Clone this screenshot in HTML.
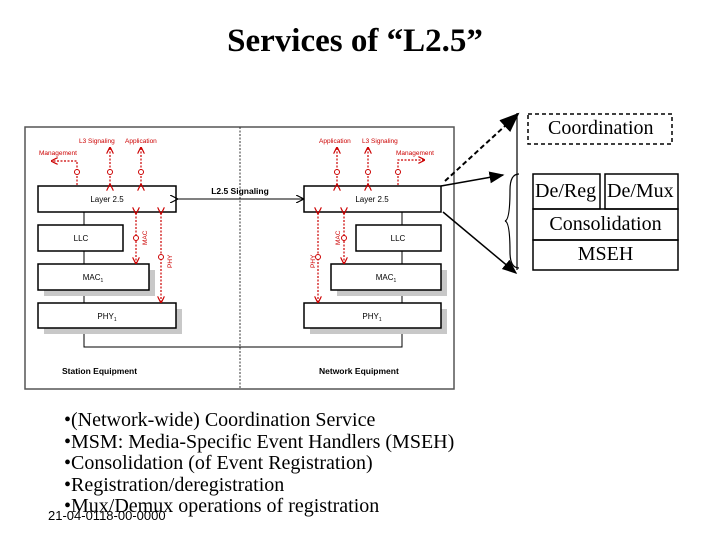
<!DOCTYPE html>
<html><head><style>
body{margin:0;width:720px;height:540px;background:#fff;overflow:hidden;position:relative;font-family:"Liberation Serif",serif;}
.t{position:absolute;white-space:nowrap;}
</style></head><body>
<div class="t" style="left:0;width:710px;text-align:center;top:23px;font-size:33px;font-weight:bold;">Services of “L2.5”</div>
<svg width="720" height="540" style="position:absolute;left:0;top:0" font-family="Liberation Sans, sans-serif">
<defs>
<marker id="ar" markerWidth="8" markerHeight="8" refX="7" refY="4" orient="auto"><path d="M0,0 L8,4 L0,8" fill="none" stroke="#000" stroke-width="1.2"/></marker>
<marker id="ab" markerWidth="10" markerHeight="10" refX="9" refY="5" orient="auto"><path d="M0,1 L10,5 L0,9z" fill="#000"/></marker>
<marker id="rr" markerWidth="6" markerHeight="6" refX="5" refY="3" orient="auto"><path d="M0,0 L6,3 L0,6" fill="none" stroke="#c00" stroke-width="1"/></marker>
</defs>
<rect x="25" y="127" width="429" height="262" fill="#fff" stroke="#555" stroke-width="1.5"/>
<line x1="240" y1="127" x2="240" y2="389" stroke="#333" stroke-dasharray="2,1.5"/>
<polyline points="84,212 84,347 402,347 402,212" fill="none" stroke="#000"/>
<g fill="#c8c8c8"><rect x="44" y="270" width="111" height="26"/><rect x="44" y="309" width="138" height="25"/><rect x="337" y="270" width="110" height="26"/><rect x="310" y="309" width="137" height="25"/></g>
<g fill="#fff" stroke="#000" stroke-width="1.5">
<rect x="38" y="186" width="138" height="26"/><rect x="38" y="225" width="85" height="26"/><rect x="38" y="264" width="111" height="26"/><rect x="38" y="303" width="138" height="25"/>
<rect x="304" y="186" width="137" height="26"/><rect x="356" y="225" width="85" height="26"/><rect x="331" y="264" width="110" height="26"/><rect x="304" y="303" width="137" height="25"/>
</g>
<line x1="177" y1="199" x2="303" y2="199" stroke="#000" marker-end="url(#ar)" marker-start="url(#ar)"/>
<text x="240" y="194" font-size="8.5" font-weight="bold" text-anchor="middle">L2.5 Signaling</text>
<g font-size="8" text-anchor="middle">
<text x="107" y="202">Layer 2.5</text><text x="81" y="241">LLC</text><text x="93" y="280">MAC<tspan font-size="5" dy="2">1</tspan></text><text x="107" y="319">PHY<tspan font-size="5" dy="2">1</tspan></text>
<text x="372" y="202">Layer 2.5</text><text x="398" y="241">LLC</text><text x="386" y="280">MAC<tspan font-size="5" dy="2">1</tspan></text><text x="372" y="319">PHY<tspan font-size="5" dy="2">1</tspan></text>
</g>
<g font-size="8.5" font-weight="bold"><text x="62" y="374">Station Equipment</text><text x="319" y="374">Network Equipment</text></g>
<g stroke="#c00" stroke-dasharray="2,1.5" fill="none" stroke-width="1.2">
<path d="M77,185 V161 H52" marker-end="url(#rr)"/>
<line x1="110" y1="185" x2="110" y2="148" marker-end="url(#rr)" marker-start="url(#rr)"/>
<line x1="141" y1="185" x2="141" y2="148" marker-end="url(#rr)" marker-start="url(#rr)"/>
<line x1="136" y1="213" x2="136" y2="263" marker-end="url(#rr)" marker-start="url(#rr)"/>
<line x1="161" y1="213" x2="161" y2="302" marker-end="url(#rr)" marker-start="url(#rr)"/>
<line x1="337" y1="185" x2="337" y2="148" marker-end="url(#rr)" marker-start="url(#rr)"/>
<line x1="368" y1="185" x2="368" y2="148" marker-end="url(#rr)" marker-start="url(#rr)"/>
<path d="M398,185 V160 H424" marker-end="url(#rr)"/>
<line x1="344" y1="213" x2="344" y2="263" marker-end="url(#rr)" marker-start="url(#rr)"/>
<line x1="318" y1="213" x2="318" y2="302" marker-end="url(#rr)" marker-start="url(#rr)"/>
</g>
<g fill="#fff" stroke="#c00"><circle cx="77" cy="172" r="2.5"/><circle cx="110" cy="172" r="2.5"/><circle cx="141" cy="172" r="2.5"/><circle cx="136" cy="238" r="2.5"/><circle cx="161" cy="257" r="2.5"/><circle cx="337" cy="172" r="2.5"/><circle cx="368" cy="172" r="2.5"/><circle cx="398" cy="172" r="2.5"/><circle cx="344" cy="238" r="2.5"/><circle cx="318" cy="257" r="2.5"/></g>
<g fill="#c00" font-size="6.5">
<text x="79" y="143">L3 Signaling</text><text x="125" y="143">Application</text><text x="39" y="155">Management</text>
<text x="319" y="143">Application</text><text x="362" y="143">L3 Signaling</text><text x="396" y="155">Management</text>
<text transform="translate(147,245) rotate(-90)">MAC</text><text transform="translate(172,268) rotate(-90)">PHY</text>
<text transform="translate(340,245) rotate(-90)">MAC</text><text transform="translate(315,268) rotate(-90)">PHY</text>
</g>
<line x1="445" y1="181" x2="518" y2="114" stroke="#000" stroke-width="2" stroke-dasharray="5,3" marker-end="url(#ab)"/>
<line x1="441" y1="186" x2="503" y2="175" stroke="#000" stroke-width="1.5" marker-end="url(#ab)"/>
<line x1="443" y1="212" x2="516" y2="273" stroke="#000" stroke-width="1.5" marker-end="url(#ab)"/>
<line x1="517" y1="113" x2="517" y2="270" stroke="#000" stroke-width="1.2"/>
<path d="M519,174 Q510,174 510,190 Q510,220 505,221 Q510,222 510,252 Q510,268 519,268" fill="none" stroke="#000" stroke-width="1.2"/>
<rect x="528" y="114" width="144" height="30" fill="none" stroke="#000" stroke-width="1.5" stroke-dasharray="4,3"/>
<g fill="none" stroke="#000" stroke-width="1.5"><rect x="533" y="174" width="67" height="35"/><rect x="605" y="174" width="73" height="35"/><rect x="533" y="209" width="145" height="31"/><rect x="533" y="240" width="145" height="30"/></g>
</svg>
<div class="t" style="left:548px;top:117px;font-size:20px;">Coordination</div>
<div class="t" style="left:535px;top:180px;font-size:20px;">De/Reg</div>
<div class="t" style="left:607px;top:180px;font-size:20px;">De/Mux</div>
<div class="t" style="left:533px;width:145px;text-align:center;top:213px;font-size:20px;">Consolidation</div>
<div class="t" style="left:533px;width:145px;text-align:center;top:243px;font-size:20px;">MSEH</div>
<div class="t" style="left:64px;top:410px;font-size:20px;line-height:21.5px;">•(Network-wide) Coordination Service<br>•MSM: Media-Specific Event Handlers (MSEH)<br>•Consolidation (of Event Registration)<br>•Registration/deregistration<br>•Mux/Demux operations of registration</div>
<div class="t" style="left:48px;top:508px;font-size:13px;font-family:'Liberation Sans Narrow','Liberation Sans',sans-serif;">21-04-0118-00-0000</div>
</body></html>
